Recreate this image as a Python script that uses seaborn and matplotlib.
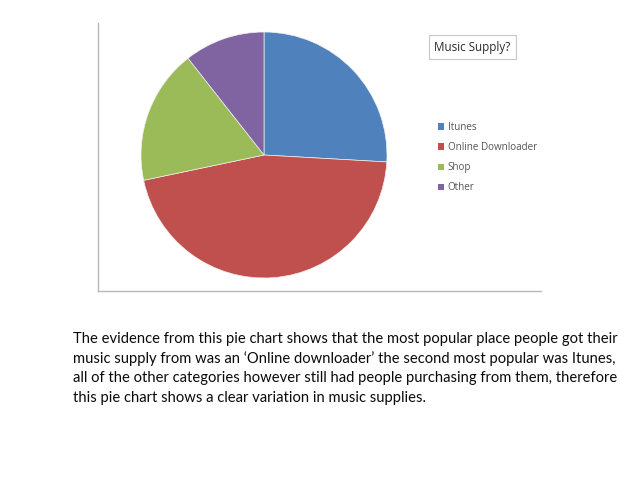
import matplotlib
matplotlib.use("Agg")
import matplotlib.pyplot as plt
import seaborn as sns
from matplotlib.patches import Patch

# ---- data ----
categories = ["Itunes", "Online Downloader", "Shop", "Other"]
shares = [25.9, 45.8, 17.7, 10.6]
colors = ["#4F81BD", "#C0504D", "#9BBB59", "#8064A2"]
chart_title = "Music Supply?"
caption_lines = [
    "The evidence from this pie chart shows that the most popular place people got their",
    "music supply from was an \u2018Online downloader\u2019 the second most popular was Itunes,",
    "all of the other categories however still had people purchasing from them, therefore",
    "this pie chart shows a clear variation in music supplies.",
]

sns.set_theme(style="white")
plt.rcParams["font.family"] = ["Lato", "DejaVu Sans"]

W, H = 638, 479
fig = plt.figure(figsize=(W / 100, H / 100), dpi=100)
fig.patch.set_facecolor("white")

def rect(x0, y0, x1, y1):
    return [x0 / W, 1 - y1 / H, (x1 - x0) / W, (y1 - y0) / H]

# chart area frame (left + bottom lines)
frame = fig.add_axes(rect(98, 23, 541, 291))
frame.set_xticks([]); frame.set_yticks([])
for s in ["top", "right"]:
    frame.spines[s].set_visible(False)
for s in ["left", "bottom"]:
    frame.spines[s].set_color("#b8b8b8")
    frame.spines[s].set_linewidth(1.0)
frame.patch.set_alpha(0)

# pie
ax = fig.add_axes(rect(141, 32, 387, 278))
wedges, _ = ax.pie(shares, colors=colors, startangle=90, counterclock=False,
                   wedgeprops=dict(linewidth=0.5, edgecolor="#f0f0f0"))
ax.set_xlim(-1.0, 1.0)
ax.set_ylim(-1.0, 1.0)
ax.set_aspect("equal")

# title box
fig.text(472.5 / W, 1 - 47 / H, chart_title, ha="center", va="center",
         fontsize=8.4, color="#2a2a2a", family=["Open Sans", "DejaVu Sans"],
         bbox=dict(boxstyle="square,pad=0.5", facecolor="white",
                   edgecolor="#c8c8c8", linewidth=0.8))

# legend
handles = [Patch(facecolor=c, edgecolor="none", label=l) for c, l in zip(colors, categories)]
leg = fig.legend(handles=handles, loc="upper left",
                 bbox_to_anchor=(429 / W, 1 - 113 / H), frameon=False,
                 handlelength=0.6, handleheight=0.6,
                 handletextpad=0.4, labelspacing=0.93,
                 prop=dict(family=["Open Sans", "DejaVu Sans"], size=7.1))
for t in leg.get_texts():
    t.set_color("#555555")

# caption, scaled so the first line spans the reference width
base = 11.3
probe = fig.text(0, 0, caption_lines[0], fontsize=base)
fig.canvas.draw()
w = probe.get_window_extent(fig.canvas.get_renderer()).width
probe.remove()
size = base * 545.0 / w
for i, line in enumerate(caption_lines):
    fig.text(73 / W, 1 - (339 + i * 19.7) / H, line, ha="left", va="center",
             fontsize=size, color="#0a0a0a")

fig.savefig("out.png", dpi=100, facecolor="white")
